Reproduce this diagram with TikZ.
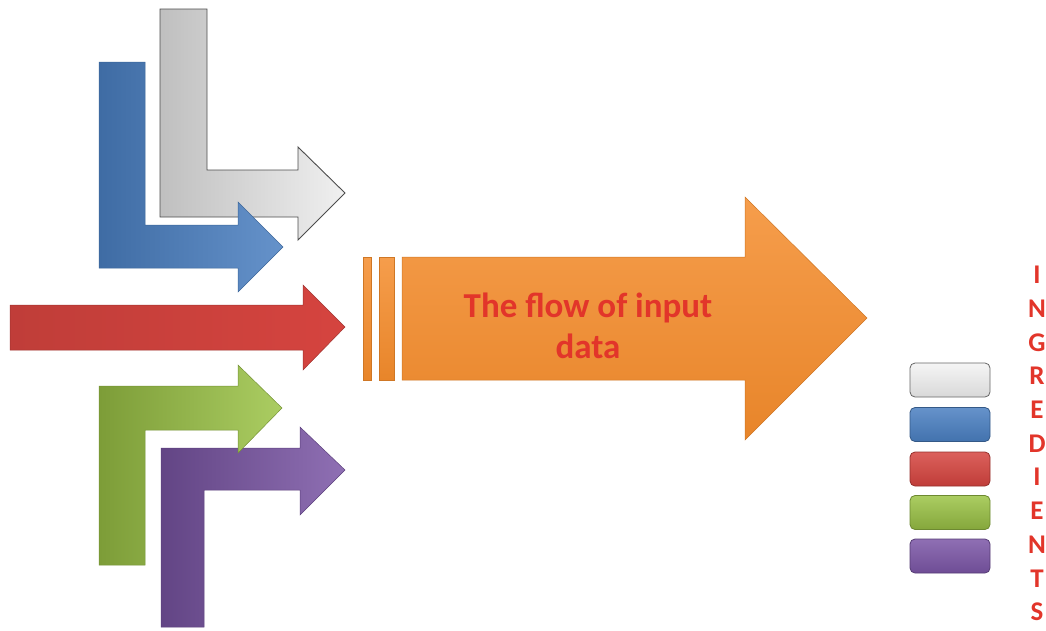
\documentclass[tikz,border=0pt]{standalone}
\usepackage{fontspec}
\setmainfont{Carlito}
\begin{document}
\begin{tikzpicture}[x=1pt,y=-1pt,line join=miter,
  grayarrow/.style={draw=black!70,line width=0.9pt,left color=gray!50,right color=gray!12},
  bluearrow/.style={draw=blue1!80!black,line width=0.5pt,left color=blue1!85!black,right color=blue1!85!white},
  redarrow/.style={draw=red1!75!black,line width=0.5pt,left color=red1!90!black,right color=red1},
  greenarrow/.style={draw=green1!75!black,line width=0.5pt,left color=green1!80!black,right color=green1!85!white},
  purplearrow/.style={draw=purple1!75!black,line width=0.5pt,left color=purple1!80!black,right color=purple1!85!white},
  orangearrow/.style={draw=orange1!85!black,line width=0.5pt,top color=orange1!85!white,bottom color=orange1!95!black},
  legend/.style={rounded corners=5pt,minimum width=80pt,minimum height=34pt,inner sep=0pt,line width=0.8pt},
  letter/.style={text=txtred,font=\fontsize{27}{29}\selectfont\bfseries,inner sep=0pt},
]
\definecolor{blue1}{HTML}{4A7FC1}
\definecolor{red1}{HTML}{D5443F}
\definecolor{green1}{HTML}{9CC446}
\definecolor{purple1}{HTML}{7B56A6}
\definecolor{orange1}{HTML}{F48C2C}
\definecolor{txtred}{HTML}{E2352A}
\useasboundingbox (0,0) rectangle (1046,630);
% gray bent arrow
\path[grayarrow] (160,9) -- (207,9) -- (207,170) -- (298,170) -- (298,147) -- (345,193) -- (298,240) -- (298,217) -- (160,217) -- cycle;
% blue bent arrow
\path[bluearrow] (99,62) -- (145,62) -- (145,225) -- (238,225) -- (238,202) -- (283,247) -- (238,292) -- (238,268) -- (99,268) -- cycle;
% red arrow
\path[redarrow] (10,305) -- (303,305) -- (303,285) -- (345,327) -- (303,370) -- (303,350) -- (10,350) -- cycle;
% purple bent arrow
\path[purplearrow] (161,627) -- (161,448) -- (300,448) -- (300,427) -- (345,470) -- (300,515) -- (300,490) -- (204,490) -- (204,627) -- cycle;
% green bent arrow
\path[greenarrow] (99,565) -- (99,386) -- (238,386) -- (238,365) -- (282,408) -- (238,453) -- (238,430) -- (145,430) -- (145,565) -- cycle;
% orange big arrow
\path[orangearrow] (363,257) rectangle (371,380);
\path[orangearrow] (379,257) rectangle (394,380);
\path[orangearrow] (402,257) -- (745,257) -- (745,197) -- (867,318) -- (745,440) -- (745,380) -- (402,380) -- cycle;
\node[text=txtred,font=\fontsize{35}{41}\selectfont\bfseries,align=center,inner sep=0pt] (flow) at (588,326) {The flow of input\\data};
% legend
\node[legend,draw=black!60,top color=gray!8,bottom color=gray!30] (lg1) at (950,380) {};
\node[legend,draw=blue1!70!black,top color=blue1!85!white,bottom color=blue1!90!black] (lg2) at (950,424.5) {};
\node[legend,draw=red1!70!black,top color=red1!85!white,bottom color=red1!90!black] (lg3) at (950,469) {};
\node[legend,draw=green1!70!black,top color=green1!85!white,bottom color=green1!85!black] (lg4) at (950,512.5) {};
\node[legend,draw=purple1!70!black,top color=purple1!85!white,bottom color=purple1!90!black] (lg5) at (950,556) {};
% vertical word
\foreach \c [count=\i from 0] in {I,N,G,R,E,D,I,E,N,T,S}
  \node[letter] (l\i) at (1037,{275+33.7*\i}) {\c};
\end{tikzpicture}
\end{document}
